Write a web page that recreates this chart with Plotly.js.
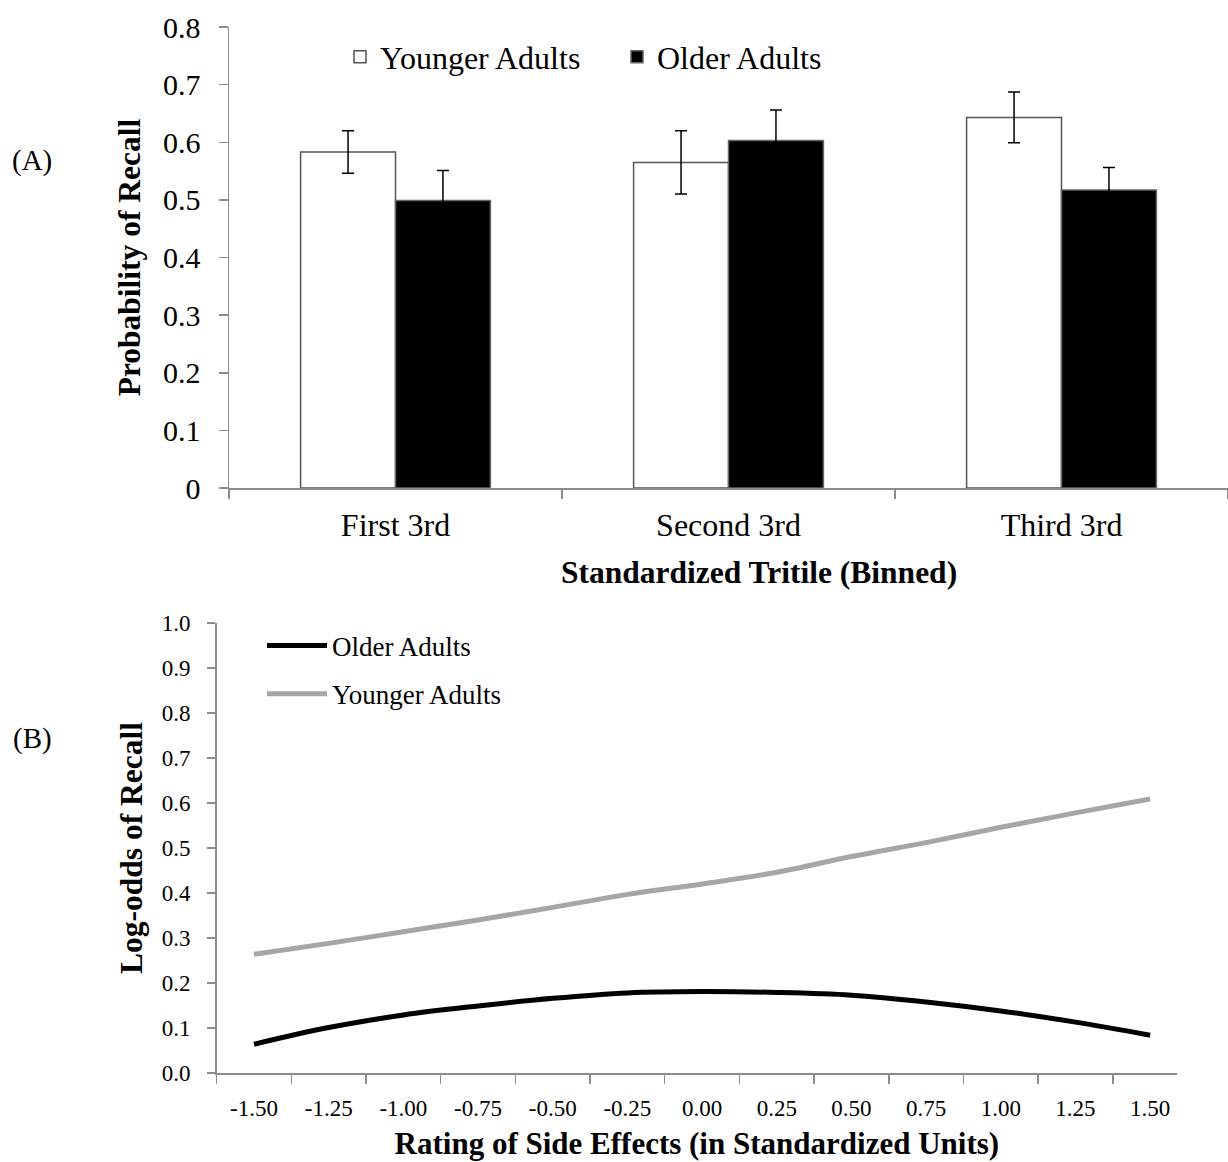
<!DOCTYPE html>
<html>
<head>
<meta charset="utf-8">
<script src="https://cdn.plot.ly/plotly-3.0.1.min.js"></script>
<style>html,body{margin:0;padding:0;background:#fff;}#chart{width:1228px;height:1162px;}</style>
</head>
<body>
<div id="chart"></div>
<script>
// ---- Panel A data ----
const tritiles = ["First 3rd", "Second 3rd", "Third 3rd"];
const youngerRecall = [0.583, 0.565, 0.643];
const youngerErr = [0.037, 0.055, 0.044];
const olderRecall = [0.499, 0.603, 0.517];
const olderErr = [0.052, 0.053, 0.039];

// ---- Panel B data ----
const sideEffectLabels = ["-1.50","-1.25","-1.00","-0.75","-0.50","-0.25","0.00","0.25","0.50","0.75","1.00","1.25","1.50"];
const olderLogOdds = [0.064, 0.101, 0.129, 0.149, 0.166, 0.178, 0.181, 0.179, 0.173, 0.158, 0.138, 0.113, 0.084];
const youngerLogOdds = [0.264, 0.288, 0.314, 0.340, 0.368, 0.397, 0.420, 0.446, 0.481, 0.512, 0.546, 0.578, 0.609];

const serif = "Liberation Serif";
const W = 1228, H = 1162;

const traces = [
  {
    type: "bar", name: "Younger Adults", x: tritiles, y: youngerRecall,
    xaxis: "x", yaxis: "y", legend: "legend",
    marker: {color: "#ffffff", line: {color: "#555555", width: 1.5}},
    error_y: {type: "data", array: youngerErr, visible: true, color: "#000000", thickness: 1.5, width: 6}
  },
  {
    type: "bar", name: "Older Adults", x: tritiles, y: olderRecall,
    xaxis: "x", yaxis: "y", legend: "legend",
    marker: {color: "#000000", line: {color: "#666666", width: 1.5}},
    error_y: {type: "data", array: olderErr, visible: true, color: "#000000", thickness: 1.5, width: 6}
  },
  {
    type: "scatter", mode: "lines", name: "Older Adults", x: sideEffectLabels, y: olderLogOdds,
    xaxis: "x2", yaxis: "y2", legend: "legend2", legendgroup: "older",
    line: {color: "#000000", width: 5, shape: "spline"}
  },
  {
    type: "scatter", mode: "lines", name: "Younger Adults", x: sideEffectLabels, y: youngerLogOdds,
    xaxis: "x2", yaxis: "y2", legend: "legend2", legendgroup: "younger",
    line: {color: "#a6a6a6", width: 5, shape: "spline"}
  }
];

const axisCommon = {
  showgrid: false, zeroline: false, showline: true, linecolor: "#8c8c8c", linewidth: 1.5,
  ticks: "outside", tickcolor: "#8c8c8c", tickwidth: 1.5, fixedrange: true
};

const layout = {
  width: W, height: H,
  margin: {l: 0, r: 0, t: 0, b: 0},
  paper_bgcolor: "#ffffff", plot_bgcolor: "#ffffff",
  font: {family: serif, color: "#000000"},
  barmode: "group", bargap: 0.43, bargroupgap: 0,
  showlegend: true,
  xaxis: Object.assign({}, axisCommon, {
    domain: [229/W, 1], anchor: "y", type: "category",
    tickson: "boundaries", ticklen: 9, ticklabelstandoff: 8,
    tickfont: {family: serif, size: 32, color: "#000"}
  }),
  yaxis: Object.assign({}, axisCommon, {
    domain: [(H-488)/H, (H-27)/H], anchor: "x", range: [0, 0.8], dtick: 0.1, tick0: 0,
    ticklen: 9, ticklabelstandoff: 12,
    tickfont: {family: serif, size: 30, color: "#000"},
    title: {text: "Probability of Recall", font: {family: serif, size: 31.5, color: "#000", weight: "bold"}, standoff: 13}
  }),
  xaxis2: Object.assign({}, axisCommon, {
    domain: [216.7/W, 1177/W], anchor: "y2", type: "category", range: [-0.5, 12.36],
    tickson: "boundaries", ticklen: 9, ticklabelstandoff: 14,
    tickfont: {family: serif, size: 23, color: "#000"},
    title: {text: "Rating of Side Effects (in Standardized Units)", font: {family: serif, size: 31, color: "#000", weight: "bold"}, standoff: 12}
  }),
  yaxis2: Object.assign({}, axisCommon, {
    domain: [(H-1073)/H, (H-623)/H], anchor: "x2", range: [0, 1.0], dtick: 0.1, tick0: 0,
    tickformat: ".1f", ticklen: 8, ticklabelstandoff: 12,
    tickfont: {family: serif, size: 23, color: "#000"},
    title: {text: "Log-odds of Recall", font: {family: serif, size: 31.5, color: "#000", weight: "bold"}, standoff: 10}
  }),
  legend: {
    orientation: "h", x: 340/W, y: (H-57)/H, xanchor: "left", yanchor: "middle",
    font: {family: serif, size: 32, color: "#000"}, bgcolor: "rgba(0,0,0,0)",
    itemwidth: 30, traceorder: "normal", entrywidth: 232
  },
  legend2: {
    orientation: "v", x: 262/W, y: (H-670)/H, xanchor: "left", yanchor: "middle",
    font: {family: serif, size: 27, color: "#000"}, bgcolor: "rgba(0,0,0,0)",
    itemwidth: 60, tracegroupgap: 10, traceorder: "grouped"
  },
  annotations: [
    {text: "(A)", xref: "paper", yref: "paper", x: 32/W, y: (H-161)/H, xanchor: "center", yanchor: "middle", showarrow: false, font: {family: serif, size: 29, color: "#000"}},
    {text: "(B)", xref: "paper", yref: "paper", x: 32/W, y: (H-738)/H, xanchor: "center", yanchor: "middle", showarrow: false, font: {family: serif, size: 29, color: "#000"}},
    {text: "<b>Standardized Tritile (Binned)</b>", xref: "paper", yref: "paper", x: 759/W, y: (H-572)/H, xanchor: "center", yanchor: "middle", showarrow: false, font: {family: serif, size: 31.5, color: "#000"}}
  ]
};

Plotly.newPlot("chart", traces, layout, {displayModeBar: false, staticPlot: true});
</script>
</body>
</html>
